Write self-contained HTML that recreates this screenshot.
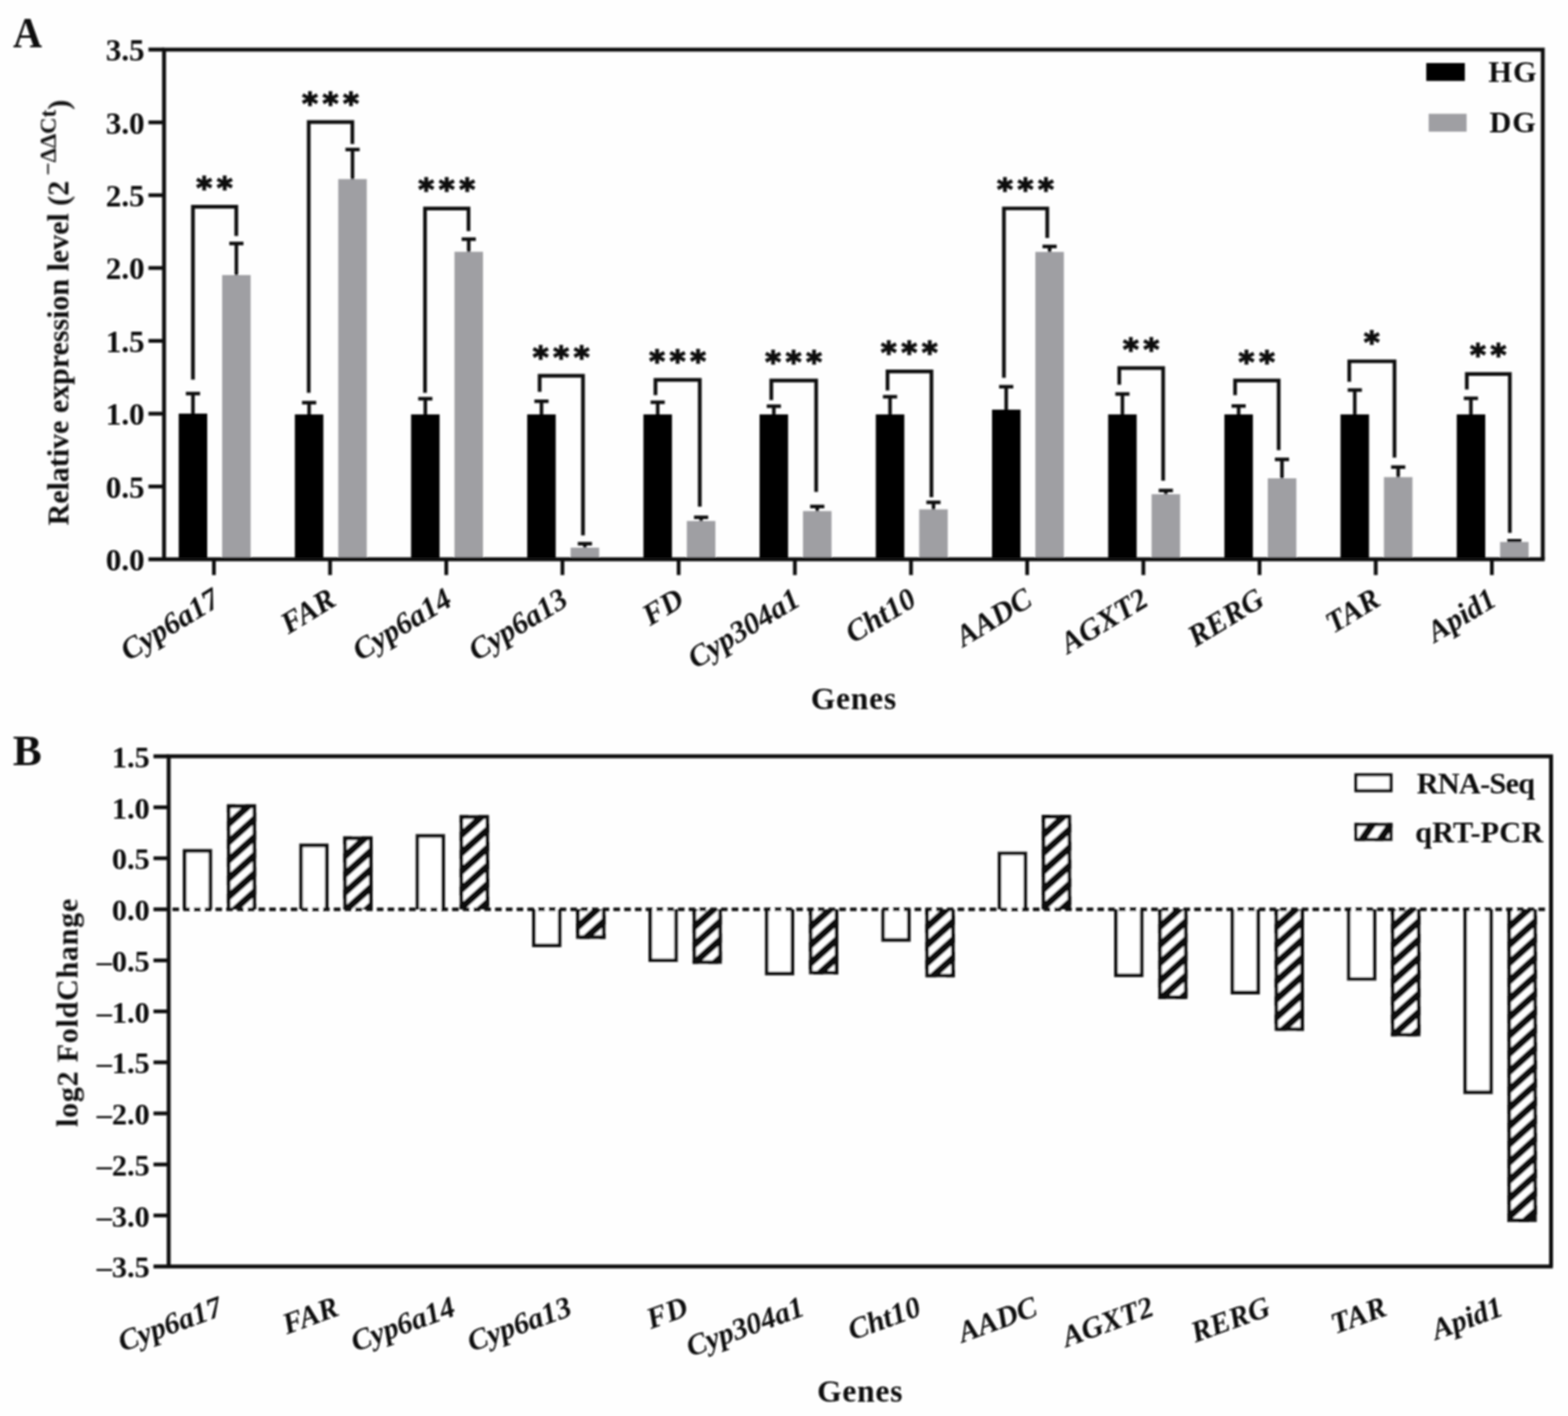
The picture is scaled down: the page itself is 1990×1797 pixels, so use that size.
<!DOCTYPE html>
<html lang="en">
<head>
<meta charset="utf-8">
<title>qRT-PCR validation of differentially expressed genes</title>
<style>
html,body{margin:0;padding:0;background:#fefefe;}
body{width:1990px;height:1797px;overflow:hidden;}
svg{display:block;}
text{font-family:'Liberation Serif', 'DejaVu Serif', serif;font-weight:bold;fill:#0c0c0c;}
.yl{font-size:39.5px;text-anchor:end;}
.ylb{font-size:38.5px;text-anchor:end;}
.xl{font-size:38.5px;font-style:italic;text-anchor:end;}
.ttl{font-size:40px;text-anchor:middle;letter-spacing:1px;}
.yt{font-size:38px;text-anchor:start;}
.pl{font-size:55px;text-anchor:middle;}
.lg{font-size:38.5px;text-anchor:start;}
.star{font-family:'DejaVu Sans', 'Liberation Sans', sans-serif;font-size:38px;text-anchor:start;letter-spacing:6.13px;stroke:#0c0c0c;stroke-width:1.7;}
.fr{fill:none;stroke:#0e0e0e;stroke-width:5;stroke-linecap:butt;stroke-linejoin:miter;}
.tk{fill:none;stroke:#0e0e0e;stroke-width:4.8;}
.eb{fill:none;stroke:#0e0e0e;stroke-width:4.5;}
.br{fill:none;stroke:#0e0e0e;stroke-width:4.7;}
.wb{fill:#fff;stroke:#111;stroke-width:4.6;}
.bo{fill:none;stroke:#0a0a0a;stroke-width:4.6;stroke-linejoin:miter;}
.hl{fill:none;stroke:#080808;stroke-width:7.3;}
.dz{fill:none;stroke:#0a0a0a;stroke-width:4.5;stroke-dasharray:8.3 5.35;stroke-dashoffset:8.85;}
</style>
</head>
<body>
<svg width="1990" height="1797" viewBox="0 0 1990 1797" role="img" aria-label="Bar charts: relative expression level and log2 fold change of twelve genes">
<defs>
<filter id="soft" x="0" y="0" width="1990" height="1797" filterUnits="userSpaceOnUse"><feGaussianBlur stdDeviation="0.85"/></filter>
<clipPath id="ch0"><rect x="287.90" y="1020.80" width="37.30" height="133.20"/></clipPath>
<clipPath id="ch1"><rect x="435.65" y="1061.60" width="37.30" height="92.40"/></clipPath>
<clipPath id="ch2"><rect x="583.40" y="1034.60" width="37.30" height="119.40"/></clipPath>
<clipPath id="ch3"><rect x="731.15" y="1154.00" width="37.30" height="37.40"/></clipPath>
<clipPath id="ch4"><rect x="878.90" y="1154.00" width="37.30" height="69.30"/></clipPath>
<clipPath id="ch5"><rect x="1026.65" y="1154.00" width="37.30" height="82.60"/></clipPath>
<clipPath id="ch6"><rect x="1174.40" y="1154.00" width="37.30" height="86.30"/></clipPath>
<clipPath id="ch7"><rect x="1322.15" y="1034.30" width="37.30" height="119.70"/></clipPath>
<clipPath id="ch8"><rect x="1469.90" y="1154.00" width="37.30" height="113.70"/></clipPath>
<clipPath id="ch9"><rect x="1617.65" y="1154.00" width="37.30" height="154.30"/></clipPath>
<clipPath id="ch10"><rect x="1765.40" y="1154.00" width="37.30" height="161.30"/></clipPath>
<clipPath id="ch11"><rect x="1913.15" y="1154.00" width="37.30" height="396.70"/></clipPath>
<clipPath id="clg"><rect x="1718.90" y="1044.40" width="48.40" height="22.90"/></clipPath>
</defs>
<rect width="1990" height="1797" fill="#fefefe"/>
<g filter="url(#soft)">
<g id="panelA">
<path d="M244.9 526.9 V499.5 M235.9 499.5 H253.9" class="eb"/>
<path d="M300.0 351.1 V308.9 M291.0 308.9 H309.0" class="eb"/>
<rect x="226.8" y="524.9" width="36.2" height="184.9" fill="#000"/>
<rect x="281.9" y="349.1" width="36.2" height="360.7" fill="#9f9fa3"/>
<path d="M244.9 481.8 V262.3 H299.9 V299.4" class="br"/>
<text x="249.3" y="251.1" class="star">**</text>
<path d="M392.3 527.9 V511 M383.3 511 H401.3" class="eb"/>
<path d="M447.4 229.3 V189.7 M438.4 189.7 H456.4" class="eb"/>
<rect x="374.2" y="525.9" width="36.2" height="183.9" fill="#000"/>
<rect x="429.3" y="227.3" width="36.2" height="482.5" fill="#9f9fa3"/>
<path d="M391.8 498.4 V154.8 H447.2 V182.7" class="br"/>
<text x="383.4" y="143.6" class="star">***</text>
<path d="M539.8 527.9 V506.1 M530.8 506.1 H548.8" class="eb"/>
<path d="M594.9 321.5 V303.4 M585.9 303.4 H603.9" class="eb"/>
<rect x="521.7" y="525.9" width="36.2" height="183.9" fill="#000"/>
<rect x="576.8" y="319.5" width="36.2" height="390.3" fill="#9f9fa3"/>
<path d="M539.4 498.4 V264.6 H594.6 V293.2" class="br"/>
<text x="530.9" y="253.4" class="star">***</text>
<path d="M687.2 527.9 V509.3 M678.2 509.3 H696.2" class="eb"/>
<path d="M742.3 697 V690 M733.3 690 H751.3" class="eb"/>
<rect x="669.1" y="525.9" width="36.2" height="183.9" fill="#000"/>
<rect x="724.2" y="695" width="36.2" height="14.8" fill="#9f9fa3"/>
<path d="M684.9 497.2 V476.8 H739.9 V679.6" class="br"/>
<text x="676.3" y="465.6" class="star">***</text>
<path d="M834.7 527.9 V510.4 M825.7 510.4 H843.7" class="eb"/>
<path d="M889.8 663.2 V656.4 M880.8 656.4 H898.8" class="eb"/>
<rect x="816.6" y="525.9" width="36.2" height="183.9" fill="#000"/>
<rect x="871.7" y="661.2" width="36.2" height="48.6" fill="#9f9fa3"/>
<path d="M831.9 501.6 V482.1 H888.1 V643.1" class="br"/>
<text x="823.9" y="470.9" class="star">***</text>
<path d="M982.1 527.9 V515.5 M973.1 515.5 H991.1" class="eb"/>
<path d="M1037.2 650.6 V642.7 M1028.2 642.7 H1046.2" class="eb"/>
<rect x="964.0" y="525.9" width="36.2" height="183.9" fill="#000"/>
<rect x="1019.1" y="648.6" width="36.2" height="61.2" fill="#9f9fa3"/>
<path d="M978.9 507.8 V482.8 H1035.8 V624.3" class="br"/>
<text x="971.2" y="471.6" class="star">***</text>
<path d="M1129.6 527.9 V503.4 M1120.6 503.4 H1138.6" class="eb"/>
<path d="M1184.7 648.4 V637.6 M1175.7 637.6 H1193.7" class="eb"/>
<rect x="1111.5" y="525.9" width="36.2" height="183.9" fill="#000"/>
<rect x="1166.6" y="646.4" width="36.2" height="63.4" fill="#9f9fa3"/>
<path d="M1126.4 495.4 V471.3 H1182.1 V631" class="br"/>
<text x="1118.1" y="460.1" class="star">***</text>
<path d="M1277.0 521.9 V490.8 M1268.0 490.8 H1286.0" class="eb"/>
<path d="M1332.1 321.7 V312.7 M1323.1 312.7 H1341.1" class="eb"/>
<rect x="1259.0" y="519.9" width="36.2" height="189.9" fill="#000"/>
<rect x="1314.0" y="319.7" width="36.2" height="390.1" fill="#9f9fa3"/>
<path d="M1274.1 479.6 V264.5 H1329.1 V302" class="br"/>
<text x="1265.5" y="253.3" class="star">***</text>
<path d="M1424.5 527.9 V500 M1415.5 500 H1433.5" class="eb"/>
<path d="M1479.6 629.2 V622.5 M1470.6 622.5 H1488.6" class="eb"/>
<rect x="1406.4" y="525.9" width="36.2" height="183.9" fill="#000"/>
<rect x="1461.5" y="627.2" width="36.2" height="82.6" fill="#9f9fa3"/>
<path d="M1420.5 488.3 V467.1 H1476.2 V610" class="br"/>
<text x="1425.2" y="455.9" class="star">**</text>
<path d="M1572.0 527.9 V515.3 M1563.0 515.3 H1581.0" class="eb"/>
<path d="M1627.0 609 V583 M1618.0 583 H1636.0" class="eb"/>
<rect x="1553.9" y="525.9" width="36.2" height="183.9" fill="#000"/>
<rect x="1609.0" y="607" width="36.2" height="102.8" fill="#9f9fa3"/>
<path d="M1567.5 501.6 V482.8 H1622.8 V571.2" class="br"/>
<text x="1572.0" y="471.6" class="star">**</text>
<path d="M1719.4 527.9 V495 M1710.4 495 H1728.4" class="eb"/>
<path d="M1774.5 607.5 V592.7 M1765.5 592.7 H1783.5" class="eb"/>
<rect x="1701.3" y="525.9" width="36.2" height="183.9" fill="#000"/>
<rect x="1756.4" y="605.5" width="36.2" height="104.3" fill="#9f9fa3"/>
<path d="M1712.4 484.4 V458.5 H1769.8 V580.8" class="br"/>
<text x="1731.0" y="447.3" class="star">*</text>
<path d="M1866.8 527.9 V505.6 M1857.8 505.6 H1875.8" class="eb"/>
<path d="M1921.9 689.8 V686.2 M1912.9 686.2 H1930.9" class="eb"/>
<rect x="1848.8" y="525.9" width="36.2" height="183.9" fill="#000"/>
<rect x="1903.8" y="687.8" width="36.2" height="22.0" fill="#9f9fa3"/>
<path d="M1861.6 494.3 V474.6 H1916.2 V676.3" class="br"/>
<text x="1865.8" y="463.4" class="star">**</text>
<path d="M208.2 709.8 V62.9 H1958.0 V709.8" class="fr"/>
<path d="M188.4 709.8 H1960.4" class="fr"/>
<path d="M188.4 62.9 H208.2" class="fr"/>
<text x="183.6" y="724.1" class="yl">0.0</text>
<path d="M188.4 617.4 H208.2" class="tk"/>
<text x="183.6" y="631.7" class="yl">0.5</text>
<path d="M188.4 525.0 H208.2" class="tk"/>
<text x="183.6" y="539.3" class="yl">1.0</text>
<path d="M188.4 432.6 H208.2" class="tk"/>
<text x="183.6" y="446.9" class="yl">1.5</text>
<path d="M188.4 340.1 H208.2" class="tk"/>
<text x="183.6" y="354.4" class="yl">2.0</text>
<path d="M188.4 247.7 H208.2" class="tk"/>
<text x="183.6" y="262.0" class="yl">2.5</text>
<path d="M188.4 155.3 H208.2" class="tk"/>
<text x="183.6" y="169.6" class="yl">3.0</text>
<text x="183.6" y="77.2" class="yl">3.5</text>
<path d="M271.5 709.8 V729.8" class="tk"/>
<path d="M418.9 709.8 V729.8" class="tk"/>
<path d="M566.4 709.8 V729.8" class="tk"/>
<path d="M713.8 709.8 V729.8" class="tk"/>
<path d="M861.3 709.8 V729.8" class="tk"/>
<path d="M1008.8 709.8 V729.8" class="tk"/>
<path d="M1156.2 709.8 V729.8" class="tk"/>
<path d="M1303.6 709.8 V729.8" class="tk"/>
<path d="M1451.1 709.8 V729.8" class="tk"/>
<path d="M1598.5 709.8 V729.8" class="tk"/>
<path d="M1746.0 709.8 V729.8" class="tk"/>
<path d="M1893.4 709.8 V729.8" class="tk"/>
<text transform="translate(281.5 767) rotate(-31.3)" class="xl">Cyp6a17</text>
<text transform="translate(428.8 767) rotate(-31.3)" class="xl">FAR</text>
<text transform="translate(576.0 767) rotate(-31.3)" class="xl">Cyp6a14</text>
<text transform="translate(723.3 767) rotate(-31.3)" class="xl">Cyp6a13</text>
<text transform="translate(870.6 767) rotate(-31.3)" class="xl">FD</text>
<text transform="translate(1017.9 767) rotate(-31.3)" class="xl">Cyp304a1</text>
<text transform="translate(1165.1 767) rotate(-31.3)" class="xl">Cht10</text>
<text transform="translate(1312.4 767) rotate(-31.3)" class="xl">AADC</text>
<text transform="translate(1459.7 767) rotate(-31.3)" class="xl">AGXT2</text>
<text transform="translate(1606.9 767) rotate(-31.3)" class="xl">RERG</text>
<text transform="translate(1754.2 767) rotate(-31.3)" class="xl">TAR</text>
<text transform="translate(1901.5 767) rotate(-31.3)" class="xl">Apid1</text>
<text x="1083.6" y="899.6" class="ttl">Genes</text>
<text transform="translate(86.8 666.7) rotate(-90)" class="yt">Relative expression level (2<tspan dx="6.7" dy="-16.5" font-size="29">−ΔΔCt</tspan><tspan dy="16.5">)</tspan></text>
<text transform="translate(35 59.8) scale(0.93 1)" class="pl">A</text>
<rect x="1810.1" y="80" width="49" height="22.7" fill="#000"/>
<rect x="1813.2" y="144.4" width="48.1" height="22.7" fill="#9f9fa3"/>
<text x="1889" y="103.6" class="lg" style="letter-spacing:1.2px">HG</text>
<text x="1890.2" y="167.6" class="lg" style="letter-spacing:1.2px">DG</text>
</g>
<g id="panelB">
<rect x="232.00" y="1077.60" width="37.3" height="76.40" fill="#fff"/>
<path d="M234.30 1154.0 V1079.90 H267.00 V1154.0" class="bo"/>
<rect x="287.90" y="1020.80" width="37.3" height="133.20" fill="#fff"/>
<path d="M281.9 983.8L331.2 939.4M281.9 1006.9L331.2 962.5M281.9 1030.0L331.2 985.6M281.9 1053.1L331.2 1008.7M281.9 1076.2L331.2 1031.8M281.9 1099.3L331.2 1054.9M281.9 1122.4L331.2 1078.0M281.9 1145.5L331.2 1101.1M281.9 1168.6L331.2 1124.2M281.9 1191.7L331.2 1147.3M281.9 1214.8L331.2 1170.4M281.9 1237.9L331.2 1193.5" class="hl" style="stroke-width:8.7" clip-path="url(#ch0)"/>
<path d="M290.20 1154.0 V1023.10 H322.90 V1154.0" class="bo"/>
<rect x="379.75" y="1070.60" width="37.3" height="83.40" fill="#fff"/>
<path d="M382.05 1154.0 V1072.90 H414.75 V1154.0" class="bo"/>
<rect x="435.65" y="1061.60" width="37.3" height="92.40" fill="#fff"/>
<path d="M429.6 1024.6L478.9 980.2M429.6 1047.7L478.9 1003.3M429.6 1070.8L478.9 1026.4M429.6 1093.9L478.9 1049.5M429.6 1117.0L478.9 1072.6M429.6 1140.1L478.9 1095.7M429.6 1163.2L478.9 1118.8M429.6 1186.3L478.9 1141.9M429.6 1209.4L478.9 1165.0M429.6 1232.5L478.9 1188.1" class="hl" style="stroke-width:8.7" clip-path="url(#ch1)"/>
<path d="M437.95 1154.0 V1063.90 H470.65 V1154.0" class="bo"/>
<rect x="527.50" y="1058.60" width="37.3" height="95.40" fill="#fff"/>
<path d="M529.80 1154.0 V1060.90 H562.50 V1154.0" class="bo"/>
<rect x="583.40" y="1034.60" width="37.3" height="119.40" fill="#fff"/>
<path d="M577.4 997.6L626.7 953.2M577.4 1020.7L626.7 976.3M577.4 1043.8L626.7 999.4M577.4 1066.9L626.7 1022.5M577.4 1090.0L626.7 1045.6M577.4 1113.1L626.7 1068.7M577.4 1136.2L626.7 1091.8M577.4 1159.3L626.7 1114.9M577.4 1182.4L626.7 1138.0M577.4 1205.5L626.7 1161.1M577.4 1228.6L626.7 1184.2M577.4 1251.7L626.7 1207.3" class="hl" style="stroke-width:8.7" clip-path="url(#ch2)"/>
<path d="M585.70 1154.0 V1036.90 H618.40 V1154.0" class="bo"/>
<rect x="675.25" y="1154.00" width="37.3" height="48.00" fill="#fff"/>
<path d="M677.55 1154.0 V1199.70 H710.25 V1154.0" class="bo"/>
<rect x="731.15" y="1154.00" width="37.3" height="37.40" fill="#fff"/>
<path d="M725.1 1114.6L774.4 1070.2M725.1 1137.6L774.4 1093.2M725.1 1160.6L774.4 1116.2M725.1 1183.6L774.4 1139.2M725.1 1206.6L774.4 1162.2M725.1 1229.6L774.4 1185.2M725.1 1252.6L774.4 1208.2M725.1 1275.6L774.4 1231.2" class="hl" style="stroke-width:8.7" clip-path="url(#ch3)"/>
<path d="M733.45 1154.0 V1189.10 H766.15 V1154.0" class="bo"/>
<rect x="823.00" y="1154.00" width="37.3" height="67.10" fill="#fff"/>
<path d="M825.30 1154.0 V1218.80 H858.00 V1154.0" class="bo"/>
<rect x="878.90" y="1154.00" width="37.3" height="69.30" fill="#fff"/>
<path d="M872.9 1114.6L922.2 1070.2M872.9 1137.6L922.2 1093.2M872.9 1160.6L922.2 1116.2M872.9 1183.6L922.2 1139.2M872.9 1206.6L922.2 1162.2M872.9 1229.6L922.2 1185.2M872.9 1252.6L922.2 1208.2M872.9 1275.6L922.2 1231.2M872.9 1298.6L922.2 1254.2M872.9 1321.6L922.2 1277.2" class="hl" style="stroke-width:8.7" clip-path="url(#ch4)"/>
<path d="M881.20 1154.0 V1221.00 H913.90 V1154.0" class="bo"/>
<rect x="970.75" y="1154.00" width="37.3" height="83.70" fill="#fff"/>
<path d="M973.05 1154.0 V1235.40 H1005.75 V1154.0" class="bo"/>
<rect x="1026.65" y="1154.00" width="37.3" height="82.60" fill="#fff"/>
<path d="M1020.7 1114.6L1070.0 1070.2M1020.7 1137.6L1070.0 1093.2M1020.7 1160.6L1070.0 1116.2M1020.7 1183.6L1070.0 1139.2M1020.7 1206.6L1070.0 1162.2M1020.7 1229.6L1070.0 1185.2M1020.7 1252.6L1070.0 1208.2M1020.7 1275.6L1070.0 1231.2M1020.7 1298.6L1070.0 1254.2M1020.7 1321.6L1070.0 1277.2" class="hl" style="stroke-width:8.7" clip-path="url(#ch5)"/>
<path d="M1028.95 1154.0 V1234.30 H1061.65 V1154.0" class="bo"/>
<rect x="1118.50" y="1154.00" width="37.3" height="41.20" fill="#fff"/>
<path d="M1120.80 1154.0 V1192.90 H1153.50 V1154.0" class="bo"/>
<rect x="1174.40" y="1154.00" width="37.3" height="86.30" fill="#fff"/>
<path d="M1168.4 1114.6L1217.7 1070.2M1168.4 1137.6L1217.7 1093.2M1168.4 1160.6L1217.7 1116.2M1168.4 1183.6L1217.7 1139.2M1168.4 1206.6L1217.7 1162.2M1168.4 1229.6L1217.7 1185.2M1168.4 1252.6L1217.7 1208.2M1168.4 1275.6L1217.7 1231.2M1168.4 1298.6L1217.7 1254.2M1168.4 1321.6L1217.7 1277.2" class="hl" style="stroke-width:8.7" clip-path="url(#ch6)"/>
<path d="M1176.70 1154.0 V1238.00 H1209.40 V1154.0" class="bo"/>
<rect x="1266.25" y="1080.70" width="37.3" height="73.30" fill="#fff"/>
<path d="M1268.55 1154.0 V1083.00 H1301.25 V1154.0" class="bo"/>
<rect x="1322.15" y="1034.30" width="37.3" height="119.70" fill="#fff"/>
<path d="M1316.2 997.3L1365.5 952.9M1316.2 1020.4L1365.5 976.0M1316.2 1043.5L1365.5 999.1M1316.2 1066.6L1365.5 1022.2M1316.2 1089.7L1365.5 1045.3M1316.2 1112.8L1365.5 1068.4M1316.2 1135.9L1365.5 1091.5M1316.2 1159.0L1365.5 1114.6M1316.2 1182.1L1365.5 1137.7M1316.2 1205.2L1365.5 1160.8M1316.2 1228.3L1365.5 1183.9M1316.2 1251.4L1365.5 1207.0" class="hl" style="stroke-width:8.7" clip-path="url(#ch7)"/>
<path d="M1324.45 1154.0 V1036.60 H1357.15 V1154.0" class="bo"/>
<rect x="1414.00" y="1154.00" width="37.3" height="86.00" fill="#fff"/>
<path d="M1416.30 1154.0 V1237.70 H1449.00 V1154.0" class="bo"/>
<rect x="1469.90" y="1154.00" width="37.3" height="113.70" fill="#fff"/>
<path d="M1463.9 1114.6L1513.2 1070.2M1463.9 1137.6L1513.2 1093.2M1463.9 1160.6L1513.2 1116.2M1463.9 1183.6L1513.2 1139.2M1463.9 1206.6L1513.2 1162.2M1463.9 1229.6L1513.2 1185.2M1463.9 1252.6L1513.2 1208.2M1463.9 1275.6L1513.2 1231.2M1463.9 1298.6L1513.2 1254.2M1463.9 1321.6L1513.2 1277.2M1463.9 1344.6L1513.2 1300.2" class="hl" style="stroke-width:8.7" clip-path="url(#ch8)"/>
<path d="M1472.20 1154.0 V1265.40 H1504.90 V1154.0" class="bo"/>
<rect x="1561.75" y="1154.00" width="37.3" height="107.90" fill="#fff"/>
<path d="M1564.05 1154.0 V1259.60 H1596.75 V1154.0" class="bo"/>
<rect x="1617.65" y="1154.00" width="37.3" height="154.30" fill="#fff"/>
<path d="M1611.7 1114.6L1661.0 1070.2M1611.7 1137.6L1661.0 1093.2M1611.7 1160.6L1661.0 1116.2M1611.7 1183.6L1661.0 1139.2M1611.7 1206.6L1661.0 1162.2M1611.7 1229.6L1661.0 1185.2M1611.7 1252.6L1661.0 1208.2M1611.7 1275.6L1661.0 1231.2M1611.7 1298.6L1661.0 1254.2M1611.7 1321.6L1661.0 1277.2M1611.7 1344.6L1661.0 1300.2M1611.7 1367.6L1661.0 1323.2M1611.7 1390.6L1661.0 1346.2" class="hl" style="stroke-width:8.7" clip-path="url(#ch9)"/>
<path d="M1619.95 1154.0 V1306.00 H1652.65 V1154.0" class="bo"/>
<rect x="1709.50" y="1154.00" width="37.3" height="90.60" fill="#fff"/>
<path d="M1711.80 1154.0 V1242.30 H1744.50 V1154.0" class="bo"/>
<rect x="1765.40" y="1154.00" width="37.3" height="161.30" fill="#fff"/>
<path d="M1759.4 1114.6L1808.7 1070.2M1759.4 1137.6L1808.7 1093.2M1759.4 1160.6L1808.7 1116.2M1759.4 1183.6L1808.7 1139.2M1759.4 1206.6L1808.7 1162.2M1759.4 1229.6L1808.7 1185.2M1759.4 1252.6L1808.7 1208.2M1759.4 1275.6L1808.7 1231.2M1759.4 1298.6L1808.7 1254.2M1759.4 1321.6L1808.7 1277.2M1759.4 1344.6L1808.7 1300.2M1759.4 1367.6L1808.7 1323.2M1759.4 1390.6L1808.7 1346.2M1759.4 1413.6L1808.7 1369.2" class="hl" style="stroke-width:8.7" clip-path="url(#ch10)"/>
<path d="M1767.70 1154.0 V1313.00 H1800.40 V1154.0" class="bo"/>
<rect x="1857.25" y="1154.00" width="37.3" height="234.40" fill="#fff"/>
<path d="M1859.55 1154.0 V1386.10 H1892.25 V1154.0" class="bo"/>
<rect x="1913.15" y="1154.00" width="37.3" height="396.70" fill="#fff"/>
<path d="M1907.2 1114.6L1956.5 1070.2M1907.2 1137.6L1956.5 1093.2M1907.2 1160.6L1956.5 1116.2M1907.2 1183.6L1956.5 1139.2M1907.2 1206.6L1956.5 1162.2M1907.2 1229.6L1956.5 1185.2M1907.2 1252.6L1956.5 1208.2M1907.2 1275.6L1956.5 1231.2M1907.2 1298.6L1956.5 1254.2M1907.2 1321.6L1956.5 1277.2M1907.2 1344.6L1956.5 1300.2M1907.2 1367.6L1956.5 1323.2M1907.2 1390.6L1956.5 1346.2M1907.2 1413.6L1956.5 1369.2M1907.2 1436.6L1956.5 1392.2M1907.2 1459.6L1956.5 1415.2M1907.2 1482.6L1956.5 1438.2M1907.2 1505.6L1956.5 1461.2M1907.2 1528.6L1956.5 1484.2M1907.2 1551.6L1956.5 1507.2M1907.2 1574.6L1956.5 1530.2M1907.2 1597.6L1956.5 1553.2M1907.2 1620.6L1956.5 1576.2M1907.2 1643.6L1956.5 1599.2" class="hl" style="stroke-width:8.7" clip-path="url(#ch11)"/>
<path d="M1915.45 1154.0 V1548.40 H1948.15 V1154.0" class="bo"/>
<path d="M214.1 1154.0 H1968.5" class="dz"/>
<path d="M214.1 1607.2 V959.8 H1968.5 V1607.2" class="fr"/>
<path d="M194.8 1607.2 H1970.8" class="fr"/>
<path d="M194.8 959.8 H214.1" class="fr"/>
<text x="190" y="973.8" class="ylb">1.5</text>
<path d="M194.8 1024.5 H214.1" class="tk"/>
<text x="190" y="1038.5" class="ylb">1.0</text>
<path d="M194.8 1089.2 H214.1" class="tk"/>
<text x="190" y="1103.2" class="ylb">0.5</text>
<path d="M194.8 1154.0 H214.1" class="tk"/>
<text x="190" y="1168.0" class="ylb">0.0</text>
<path d="M194.8 1218.8 H214.1" class="tk"/>
<text x="190" y="1232.8" class="ylb">–0.5</text>
<path d="M194.8 1283.5 H214.1" class="tk"/>
<text x="190" y="1297.5" class="ylb">–1.0</text>
<path d="M194.8 1348.2 H214.1" class="tk"/>
<text x="190" y="1362.2" class="ylb">–1.5</text>
<path d="M194.8 1413.0 H214.1" class="tk"/>
<text x="190" y="1427.0" class="ylb">–2.0</text>
<path d="M194.8 1477.8 H214.1" class="tk"/>
<text x="190" y="1491.8" class="ylb">–2.5</text>
<path d="M194.8 1542.5 H214.1" class="tk"/>
<text x="190" y="1556.5" class="ylb">–3.0</text>
<text x="190" y="1621.2" class="ylb">–3.5</text>
<text transform="translate(284.5 1668.6) rotate(-20)" class="xl" style="font-size:38px">Cyp6a17</text>
<text transform="translate(432.2 1668.6) rotate(-20)" class="xl" style="font-size:38px">FAR</text>
<text transform="translate(580.0 1668.6) rotate(-20)" class="xl" style="font-size:38px">Cyp6a14</text>
<text transform="translate(727.8 1668.6) rotate(-20)" class="xl" style="font-size:38px">Cyp6a13</text>
<text transform="translate(875.5 1668.6) rotate(-20)" class="xl" style="font-size:38px">FD</text>
<text transform="translate(1023.2 1668.6) rotate(-20)" class="xl" style="font-size:38px">Cyp304a1</text>
<text transform="translate(1171.0 1668.6) rotate(-20)" class="xl" style="font-size:38px">Cht10</text>
<text transform="translate(1318.8 1668.6) rotate(-20)" class="xl" style="font-size:38px">AADC</text>
<text transform="translate(1466.5 1668.6) rotate(-20)" class="xl" style="font-size:38px">AGXT2</text>
<text transform="translate(1614.2 1668.6) rotate(-20)" class="xl" style="font-size:38px">RERG</text>
<text transform="translate(1762.0 1668.6) rotate(-20)" class="xl" style="font-size:38px">TAR</text>
<text transform="translate(1909.8 1668.6) rotate(-20)" class="xl" style="font-size:38px">Apid1</text>
<text x="1091.6" y="1779.2" class="ttl">Genes</text>
<text transform="translate(98.4 1430.2) rotate(-90)" class="yt" style="letter-spacing:1px">log2 FoldChange</text>
<text x="16.3" y="970.6" class="pl" style="text-anchor:start">B</text>
<rect x="1720.9" y="983.3" width="44.4" height="20.1" class="wb" style="stroke-width:4"/>
<rect x="1718.9" y="1044.4" width="48.4" height="22.9" fill="#fff"/>
<path d="M1712.9 987.3L1773.3 899.8M1712.9 1020.9L1773.3 933.4M1712.9 1054.5L1773.3 967.0M1712.9 1088.1L1773.3 1000.6M1712.9 1121.7L1773.3 1034.2M1712.9 1155.3L1773.3 1067.8M1712.9 1188.9L1773.3 1101.4M1712.9 1222.5L1773.3 1135.0" class="hl" style="stroke-width:9.0" clip-path="url(#clg)"/>
<rect x="1720.9" y="1046.4" width="44.4" height="18.9" class="wb" style="stroke-width:4;fill:none"/>
<text x="1798" y="1006.8" class="lg" style="letter-spacing:-1px">RNA-Seq</text>
<text x="1795.9" y="1068.8" class="lg" style="letter-spacing:0.1px">qRT-PCR</text>
</g>
</g>
</svg>
</body>
</html>
